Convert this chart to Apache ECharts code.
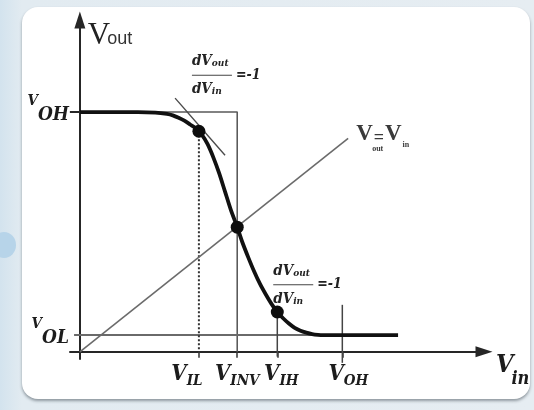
<!DOCTYPE html>
<html>
<head>
<meta charset="utf-8">
<title>Inverter voltage transfer characteristic</title>
<script src="https://cdn.jsdelivr.net/npm/echarts@6/dist/echarts.min.js"></script>
<style>
  html, body { margin: 0; padding: 0; }
  body {
    width: 534px; height: 410px; overflow: hidden; position: relative;
    background: linear-gradient(90deg, #d3e3ee 0px, #e2ebf1 22px, #e6edf2 100%);
  }
  .card {
    position: absolute; left: 22px; top: 7px; width: 508px; height: 392px;
    background: #fff; border-radius: 16px;
    box-shadow: 0 2px 3px rgba(40, 50, 60, 0.45);
  }
  .blob {
    position: absolute; left: -8px; top: 232px; width: 24px; height: 26px;
    border-radius: 50%; background: #b7d4e9;
  }
  #chart { position: absolute; left: 0; top: 0; width: 534px; height: 410px; }
</style>
</head>
<body>
<div class="blob"></div>
<div class="card"></div>
<div id="chart"></div>
<script>
// Transfer curve Vout(Vin) of a CMOS inverter
const vin  = [0, 1.0, 1.3, 1.5, 1.6, 1.7, 1.8, 1.9, 2.0, 2.1, 2.2, 2.3, 2.4, 2.5, 2.6, 2.71,
              2.8, 2.9, 3.0, 3.1, 3.2, 3.3, 3.4, 3.5, 3.6, 3.7, 3.8, 3.9, 4.0, 4.1, 4.2, 5.48];
const vout = [5.0, 5.0, 4.99, 4.96, 4.93, 4.88, 4.82, 4.74, 4.66, 4.53, 4.33, 4.05, 3.72, 3.34, 2.96, 2.6,
              2.28, 1.97, 1.68, 1.42, 1.2, 1.0, 0.83, 0.7, 0.59, 0.5, 0.44, 0.4, 0.37, 0.355, 0.35, 0.35];

// Characteristic levels
const VOH = 5.0;
const VOL = 0.35;
const VIL = 2.05;
const VINV = 2.71;
const VIH = 3.4;
const VOH_IN = 4.52;

// Marked points on the curve (VIL, VINV, VIH)
const markX = [2.05, 2.71, 3.4];
const markY = [4.6, 2.6, 0.83];

// Vout = Vin reference line
const diagX = [0, 4.62];
const diagY = [0, 4.45];

// Tangent with slope -1 at VIL
const tanX = [1.64, 2.5];
const tanY = [5.29, 4.1];

// Tick positions and their names
const xTickVals = [VIL, VINV, VIH, VOH_IN];
const xTickNames = [['V', 'IL'], ['V', 'INV'], ['V', 'IH'], ['V', 'OH']];
const yTickVals = [VOL, VOH];
const yTickNames = [['V', 'OL'], ['V', 'OH']];

// Horizontal nudge of each input-axis label, px
const xLabelShift = [-12, 0, 4, 6];

const zip = (xs, ys) => xs.map((x, i) => [x, ys[i]]);
const SERIF = '"DejaVu Serif Condensed", "DejaVu Serif", "Liberation Serif", serif';
const INK = '#1c1c1c';

const chart = echarts.init(document.getElementById('chart'), null, { renderer: 'canvas' });

const thin = (color, width, type) => ({ color, width, type: type || 'solid' });

const bi = (size, lh, pad) => ({
  fontFamily: SERIF, fontWeight: 'bold', fontStyle: 'italic', fontSize: size,
  color: INK, lineHeight: lh, padding: pad || [0, 0, 0, 0]
});

const fracRich = {
  n:   bi(15, 17),
  ns:  bi(10, 17, [5, 0, 0, 0]),
  bar: { width: 40, height: 1, lineHeight: 11, backgroundColor: '#444' },
  eq:  bi(14, 11, [0, 0, 0, 4])
};
fracRich.n.color = fracRich.ns.color = fracRich.eq.color = '#222';

const solid = { opacity: 1 };

const option = {
  animation: false,
  backgroundColor: 'transparent',
  grid: { left: 70, right: 50, top: 20, bottom: 51 },
  xAxis: {
    type: 'value', min: -0.17, max: 6.96,
    splitLine: { show: false },
    axisLine: {
      onZero: true, symbol: ['none', 'triangle'], symbolSize: [11, 17],
      lineStyle: { color: '#262626', width: 2 }
    },
    axisTick: { show: true, customValues: xTickVals, length: 6, lineStyle: { color: '#333', width: 1.5 } },
    axisLabel: { show: false },
    name: '{v|V}{s|in}', nameLocation: 'end', nameGap: 12,
    nameTextStyle: {
      verticalAlign: 'middle', align: 'left', padding: [40, 0, 0, 0],
      rich: {
        v: bi(25, 26, [0, 0, 12, 0]),
        s: bi(18, 26, [16, 0, 0, -2])
      }
    }
  },
  yAxis: {
    type: 'value', min: -0.15, max: 6.92,
    splitLine: { show: false },
    axisLine: {
      onZero: true, symbol: ['none', 'triangle'], symbolSize: [11, 17],
      lineStyle: { color: '#262626', width: 2 }
    },
    axisTick: { show: true, customValues: [VOH], length: 10, lineStyle: { color: '#262626', width: 2 } },
    axisLabel: {
      customValues: yTickVals, margin: 1,
      formatter: v => {
        const i = yTickVals.indexOf(v);
        return i < 0 ? '' : '{v|' + yTickNames[i][0] + '}{s|' + yTickNames[i][1] + '}';
      },
      rich: {
        v: bi(15, 16, [0, 0, 22, 0]),
        s: bi(19, 20, [6, 0, 0, 0])
      }
    },
    name: '{v|V}{s|out}', nameLocation: 'end', nameGap: -3,
    nameTextStyle: {
      align: 'left', verticalAlign: 'top', padding: [0, 0, 0, 8],
      rich: {
        v: { fontFamily: '"Liberation Serif", serif', fontSize: 31, color: '#222', lineHeight: 30, padding: [0, 0, 4, 0] },
        s: { fontFamily: '"Liberation Sans", sans-serif', fontSize: 18, color: '#333', lineHeight: 22, padding: [2, 0, 0, -3] }
      }
    }
  },
  series: [
    {
      // VOH level and the VINV side, drawn as an open box
      type: 'line', silent: true, symbol: 'none',
      data: [[0, VOH], [VINV, VOH], [VINV, 0]],
      lineStyle: thin('#5a5a5a', 1.6), z: 1
    },
    {
      // VOL level
      type: 'line', silent: true, symbol: 'none', clip: false,
      data: [[-0.1, VOL], [5.0, VOL]],
      lineStyle: thin('#6a6a6a', 2), z: 1
    },
    {
      // VIL projection
      type: 'line', silent: true, symbol: 'none',
      data: [[VIL, markY[0]], [VIL, 0]],
      lineStyle: thin('#333', 2, [2, 2]), z: 1
    },
    {
      // VIH projection
      type: 'line', silent: true, symbol: 'none', clip: false,
      data: [[VIH, markY[2]], [VIH, -0.1]],
      lineStyle: thin('#444', 1.5), z: 1
    },
    {
      // VOH mark on the input axis
      type: 'line', silent: true, symbol: 'none', clip: false,
      data: [[VOH_IN, 0.98], [VOH_IN, -0.23]],
      lineStyle: thin('#444', 1.5), z: 1
    },
    {
      // Vout = Vin
      type: 'line', silent: true, symbol: 'none',
      data: zip(diagX, diagY),
      lineStyle: thin('#6b6b6b', 1.6), z: 1,
      endLabel: {
        show: true, distance: 8, offset: [0, -2],
        formatter: '{v|V}{e|=}{v|V}{s|in}',
        rich: {
          v: { fontFamily: '"Liberation Serif", serif', fontWeight: 'bold', fontSize: 23, color: '#3a3a3a', lineHeight: 24, padding: [0, 0, 4, 0] },
          s: { fontFamily: '"Liberation Serif", serif', fontWeight: 'bold', fontSize: 8, color: '#3a3a3a', lineHeight: 10, padding: [18, 0, 0, 1] },
          e: { fontFamily: '"Liberation Serif", serif', fontWeight: 'bold', fontSize: 18, color: '#3a3a3a', lineHeight: 24, padding: [4, 1, 0, 1] }
        }
      }
    },
    {
      // subscript "out" tucked beneath the equals sign
      type: 'scatter', silent: true, symbolSize: 0, clip: false, itemStyle: solid,
      data: [[diagX[1], diagY[1]]],
      label: {
        show: true, position: 'right', distance: 24, offset: [0, 11],
        formatter: 'out',
        fontFamily: '"Liberation Serif", serif', fontWeight: 'bold', fontSize: 8, color: '#3a3a3a'
      }
    },
    {
      // Slope -1 tangent at VIL
      type: 'line', silent: true, symbol: 'none', clip: false,
      data: zip(tanX, tanY),
      lineStyle: thin('#4a4a4a', 1.4), z: 2
    },
    {
      // Transfer curve
      type: 'line', silent: true, symbol: 'none',
      smooth: 0.25,
      data: zip(vin, vout),
      lineStyle: thin('#111', 3.8), z: 3
    },
    {
      type: 'scatter', silent: true,
      data: zip(markX, markY),
      symbolSize: 13, itemStyle: { color: '#0d0d0d', opacity: 1 }, z: 4
    },
    {
      // Names of the characteristic input voltages under the axis
      type: 'scatter', silent: true, symbolSize: 0, clip: false, itemStyle: solid,
      data: xTickVals.map(v => [v, 0]),
      label: {
        show: true, position: 'bottom', distance: 14,
        formatter: p => '{v|' + xTickNames[p.dataIndex][0] + '}{s|' + xTickNames[p.dataIndex][1] + '}',
        rich: {
          v: bi(22, 24, [0, 0, 7, 0]),
          s: bi(15, 24, [7, 0, 0, 0])
        }
      },
      labelLayout: p => ({ dx: xLabelShift[p.dataIndex] })
    },
    {
      // dVout/dVin = -1 notes at VIL and VIH
      type: 'scatter', silent: true, symbolSize: 0, clip: false, itemStyle: solid,
      data: [[1.93, 5.77], [3.33, 1.40]],
      label: {
        show: true, position: 'right', distance: 0,
        formatter: '{n|dV}{ns|out}\n{bar| }{eq|=-1}\n{n|dV}{ns|in}',
        rich: fracRich
      }
    }
  ]
};

chart.setOption(option);
</script>
</body>
</html>
